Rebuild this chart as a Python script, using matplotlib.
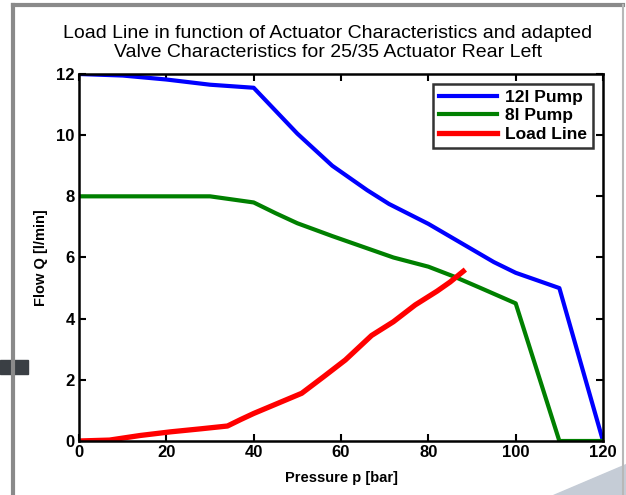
import matplotlib
matplotlib.use("Agg")
import matplotlib.pyplot as plt
from matplotlib.patches import Polygon, Rectangle
from matplotlib.lines import Line2D

plt.rcParams['font.family'] = ['Liberation Sans', 'DejaVu Sans']

# 12 l pump characteristic
p_12 = [0, 10, 20, 30, 40, 44, 50, 58, 66, 71, 80, 89, 95, 100, 105, 110, 120]
q_12 = [12.0, 11.95, 11.82, 11.65, 11.55, 10.95, 10.05, 9.0, 8.2, 7.75, 7.1, 6.35, 5.85, 5.5, 5.25, 5.0, 0.0]

# 8 l pump characteristic
p_8 = [0, 20, 30, 35, 40, 45, 50, 58, 66, 72, 80, 86, 92, 100, 110, 120]
q_8 = [8.0, 8.0, 8.0, 7.9, 7.8, 7.45, 7.12, 6.7, 6.3, 6.0, 5.7, 5.37, 5.0, 4.5, 0.0, 0.0]

# load line
p_load = [0, 7, 14, 21, 28, 34, 37, 40, 45, 51, 56, 61, 67, 72, 77, 82, 85, 88]
q_load = [0.0, 0.03, 0.18, 0.3, 0.4, 0.49, 0.7, 0.9, 1.2, 1.56, 2.1, 2.65, 3.45, 3.9, 4.45, 4.9, 5.2, 5.55]

fig = plt.figure(figsize=(6.26, 4.95), dpi=100)

# slide decorations around the picture
fig.add_artist(Line2D([0.021, 0.021], [0.0, 0.99], color="#8a8a8a", lw=3, transform=fig.transFigure))
fig.add_artist(Line2D([0.021, 0.995], [0.99, 0.99], color="#8a8a8a", lw=3, transform=fig.transFigure))
fig.add_artist(Line2D([0.995, 0.995], [0.0, 0.99], color="#b8b8b8", lw=1.5, transform=fig.transFigure))
fig.add_artist(Rectangle((0.0, 0.245), 0.045, 0.028, color="#3a3f44", transform=fig.transFigure))
fig.add_artist(Polygon([[0.883, 0.0], [1.0, 0.0], [1.0, 0.063]], closed=True,
                       color="#c5ccd6", transform=fig.transFigure))

ax = fig.add_axes([0.1262, 0.1091, 0.8371, 0.7414])
ax.plot(p_12, q_12, color="#0000ff", lw=3, label="12l Pump")
ax.plot(p_8, q_8, color="#008000", lw=3, label="8l Pump")
ax.plot(p_load, q_load, color="#ff0000", lw=3.8, label="Load Line")

ax.set_xlim(0, 120)
ax.set_ylim(0, 12)
ax.set_xticks(range(0, 121, 20))
ax.set_yticks(range(0, 13, 2))
ax.tick_params(direction="in", length=5, width=1.5, top=True, right=True,
               labelsize=12, pad=3)
for lab in ax.get_xticklabels() + ax.get_yticklabels():
    lab.set_fontweight("bold")
for s in ax.spines.values():
    s.set_linewidth(1.8)

ax.set_xlabel("Pressure p [bar]", fontsize=10.5, fontweight="bold", labelpad=8)
ax.set_ylabel("Flow Q [l/min]", fontsize=10.5, fontweight="bold", labelpad=6)
ax.set_title("Load Line in function of Actuator Characteristics and adapted\n"
             "Valve Characteristics for 25/35 Actuator Rear Left",
             fontsize=14, pad=12, linespacing=1.2, x=0.475)

leg = ax.legend(loc="upper right", frameon=True, fancybox=False,
                borderpad=0.35, labelspacing=0.2, handlelength=3.3,
                handletextpad=0.5, borderaxespad=0.55,
                prop={"weight": "bold", "size": 12.5})
leg.get_frame().set_edgecolor("black")
leg.get_frame().set_linewidth(1.8)

fig.savefig("out.png", dpi=100)
